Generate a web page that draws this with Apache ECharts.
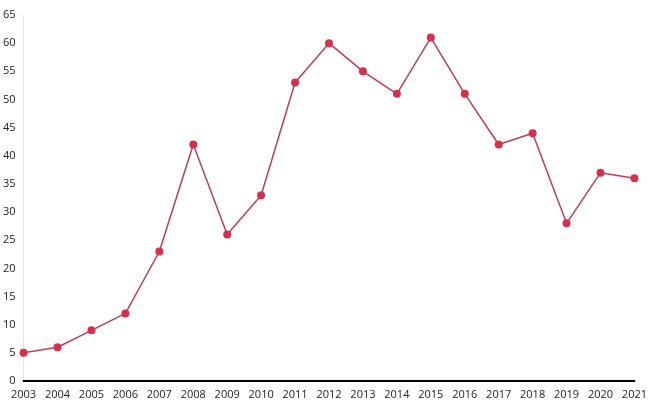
<!DOCTYPE html>
<html><head><meta charset="utf-8">
<script src="https://cdn.jsdelivr.net/npm/echarts@6/dist/echarts.min.js"></script>
<style>html,body{margin:0;padding:0;background:#fff}#c{width:650px;height:413px}</style>
</head><body><div id="c"></div>
<script>
const years = ['2003','2004','2005','2006','2007','2008','2009','2010','2011','2012','2013','2014','2015','2016','2017','2018','2019','2020','2021'];
const values = [5,6,9,12,23,42,26,33,53,60,55,51,61,51,42,44,28,37,36];
const chart = echarts.init(document.getElementById('c'));
chart.setOption({
  animation:false,
  grid:{left:23,right:14,top:15,bottom:32},
  xAxis:{type:'category',data:years,boundaryGap:false,
    axisLine:{lineStyle:{color:'#000',width:2}},axisTick:{show:false},
    axisLabel:{color:'#222',fontSize:11,fontFamily:'Open Sans',margin:8,interval:0}},
  yAxis:{type:'value',min:0,max:65,interval:5,
    axisLine:{show:true,lineStyle:{color:'#e6e6e6'}},axisTick:{show:false},splitLine:{show:false},
    axisLabel:{color:'#222',fontSize:11,fontFamily:'Open Sans',margin:8}},
  series:[{type:'line',data:values,symbol:'circle',symbolSize:8,
    lineStyle:{color:'#b8405a',width:1.5},itemStyle:{color:'#d6304f'}}]
});
</script></body></html>
